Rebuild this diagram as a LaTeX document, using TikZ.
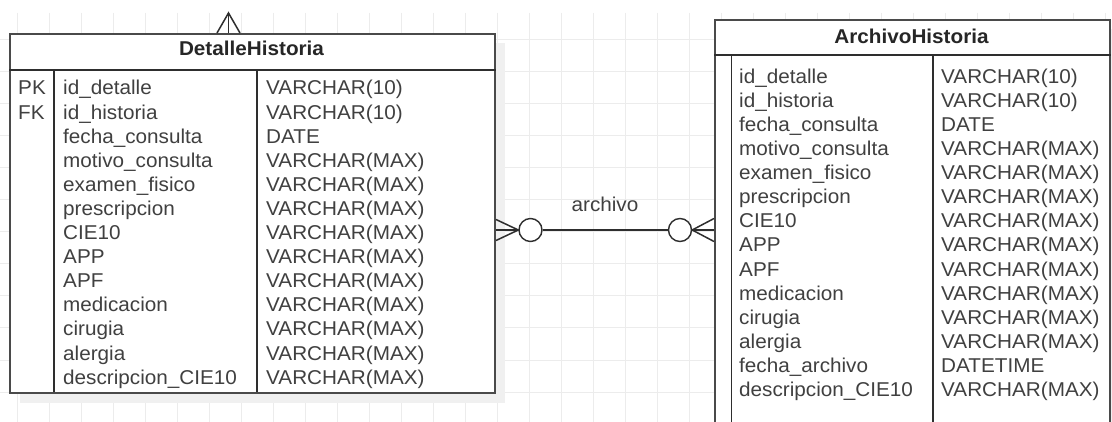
\documentclass[tikz,border=0pt]{standalone}
\usepackage{fontspec}
\setmainfont{Liberation Sans}[FakeStretch=1.035]
\usetikzlibrary{calc}
\definecolor{gridc}{HTML}{ECECEC}
\definecolor{linec}{HTML}{4A4A4A}
\definecolor{innerc}{HTML}{2E2E2E}
\definecolor{txtc}{HTML}{404040}
\definecolor{shadc}{HTML}{F0F0F0}
\begin{document}
\begin{tikzpicture}[x=1pt,y=-1pt,
  tbl/.style={draw=linec, line width=2pt, fill=white, inner sep=0pt, anchor=north west},
  inner/.style={draw=innerc, line width=1.4pt},
  rel/.style={draw=innerc, line width=1.5pt},
  fld/.style={anchor=base west, inner sep=0pt, text=txtc, font=\fontsize{20}{24}\selectfont},
  hdr/.style={anchor=base, inner sep=0pt, text=black!85, font=\fontsize{20}{24}\selectfont\bfseries},
  ring/.style={circle, draw=innerc, line width=1.4pt, fill=white, minimum size=23pt, inner sep=0pt}]
\useasboundingbox (0,0) rectangle (1112,422);
\clip (0,0) rectangle (1112,422);
\fill[white] (0,0) rectangle (1112,422);
% grid
\foreach \gx in {17,49,...,1105} \draw[gridc, line width=1pt] (\gx,13) -- (\gx,422);
\foreach \gy in {40,72,...,392} \draw[gridc, line width=1pt] (0,\gy) -- (1112,\gy);
% shadows
\fill[shadc] (20,43) rectangle (505,403);
\fill[shadc] (725,29) rectangle (1125,440);
% DetalleHistoria table
\node[tbl, minimum width=485pt, minimum height=359pt] (dh) at (9,33) {};
\draw[inner] ($(dh.north west)+(0,37)$) coordinate (dhhl) -- ($(dh.north east)+(0,37)$);
\draw[inner] (54,70) -- (54,392);
\draw[inner] (257,70) -- (257,392);
\node[hdr] (dhh) at (251.5,56) {DetalleHistoria};
\node[fld] (dhk0) at (18,95) {PK};
\node[fld] (dhk1) at (18,119.1) {FK};
\foreach \t [count=\i from 0] in {id\_detalle,id\_historia,fecha\_consulta,motivo\_consulta,examen\_fisico,prescripcion,CIE10,APP,APF,medicacion,cirugia,alergia,descripcion\_CIE10}
  \node[fld] (dhf\i) at (63,{95+24.1*\i}) {\t};
\foreach \t [count=\i from 0] in {VARCHAR(10),VARCHAR(10),DATE,VARCHAR(MAX),VARCHAR(MAX),VARCHAR(MAX),VARCHAR(MAX),VARCHAR(MAX),VARCHAR(MAX),VARCHAR(MAX),VARCHAR(MAX),VARCHAR(MAX),VARCHAR(MAX)}
  \node[fld] (dht\i) at (266,{95+24.1*\i}) {\t};
% ArchivoHistoria table
\node[tbl, minimum width=395pt, minimum height=430pt] (ah) at (714,19) {};
\draw[inner] ($(ah.north west)+(0,36)$) -- ($(ah.north east)+(0,36)$);
\draw[inner] (731.5,55) -- (731.5,440);
\draw[inner] (933,55) -- (933,440);
\node[hdr] (ahh) at (911.5,43.3) {ArchivoHistoria};
\foreach \t [count=\i from 0] in {id\_detalle,id\_historia,fecha\_consulta,motivo\_consulta,examen\_fisico,prescripcion,CIE10,APP,APF,medicacion,cirugia,alergia,fecha\_archivo,descripcion\_CIE10}
  \node[fld] (ahf\i) at (739,{83.3+24.1*\i}) {\t};
\foreach \t [count=\i from 0] in {VARCHAR(10),VARCHAR(10),DATE,VARCHAR(MAX),VARCHAR(MAX),VARCHAR(MAX),VARCHAR(MAX),VARCHAR(MAX),VARCHAR(MAX),VARCHAR(MAX),VARCHAR(MAX),VARCHAR(MAX),DATETIME,VARCHAR(MAX)}
  \node[fld] (aht\i) at (941,{83.3+24.1*\i}) {\t};
% relationship archivo
\coordinate (dhR) at (dh.east |- 0,230);
\coordinate (ahL) at (ah.west |- 0,230);
\node[ring] (o1) at (530.5,230) {};
\node[ring] (o2) at (680,230) {};
\draw[rel] (dhR) -- (o1.west);
\draw[rel] ([yshift=10.5pt]dhR) -- (o1.west) -- ([yshift=-10.5pt]dhR);
\draw[rel] (o1.east) -- (o2.west);
\draw[rel] (o2.east) -- (ahL);
\draw[rel] ([yshift=11.5pt]ahL) -- (o2.east) -- ([yshift=-11.5pt]ahL);
\node[fld, anchor=base] (lbl) at (605,211.7) {archivo};
% crow's foot at top of DetalleHistoria
\coordinate (topc) at (228.5,13);
\coordinate (dhT) at (dh.north -| 228.5,0);
\draw[rel] (topc) -- (dhT);
\draw[rel] ([xshift=-11.5pt]dhT) -- (topc) -- ([xshift=11.5pt]dhT);
\end{tikzpicture}
\end{document}
